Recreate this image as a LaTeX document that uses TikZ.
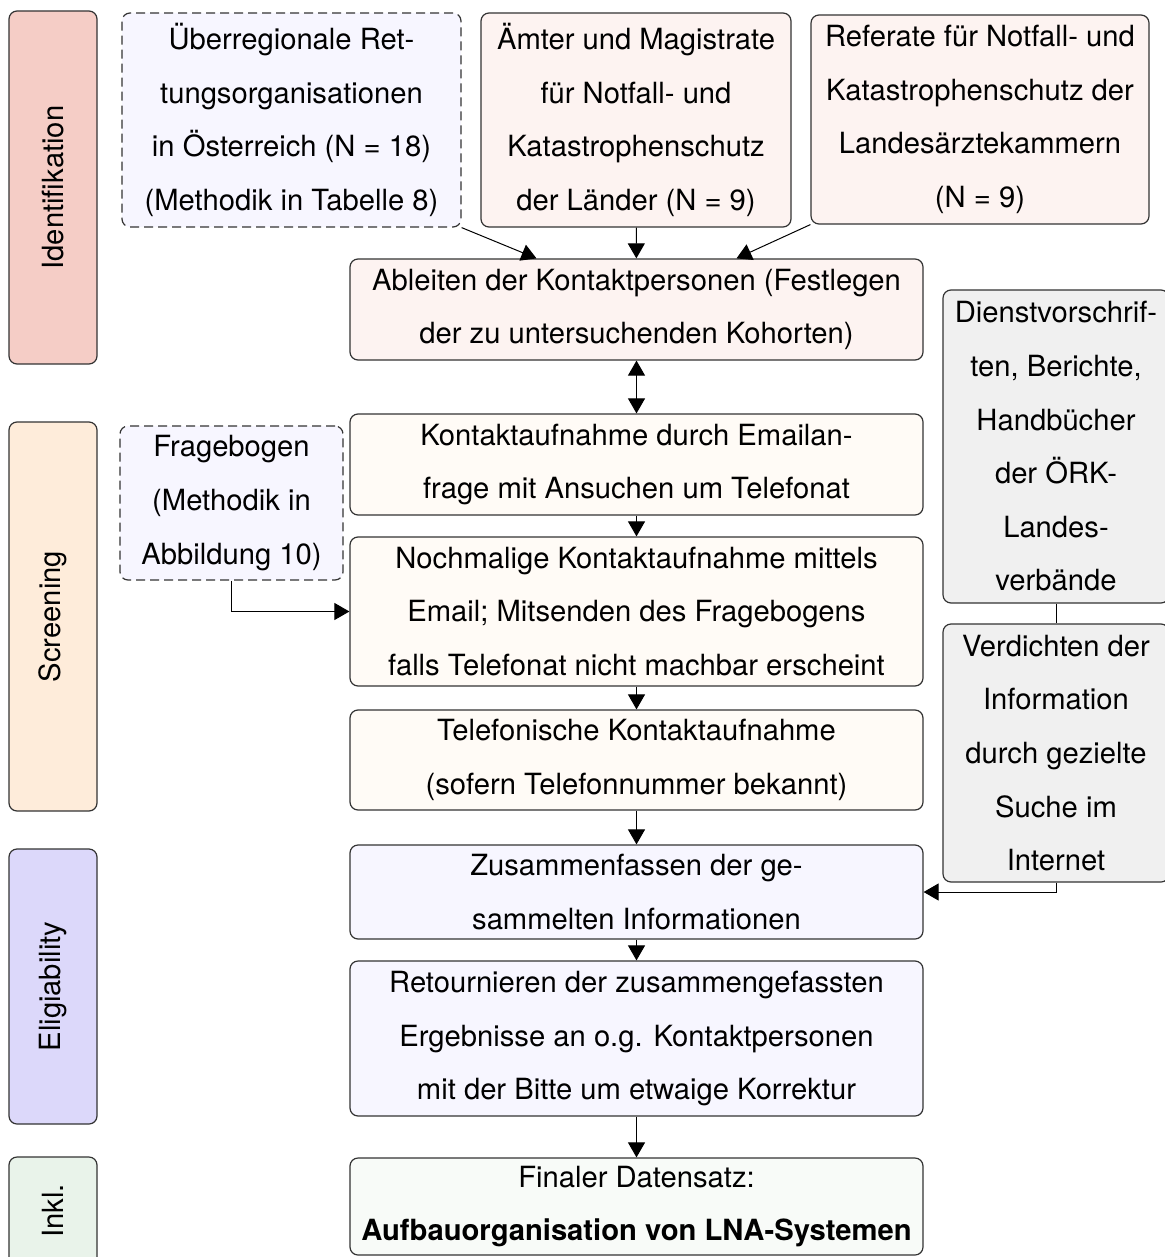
\documentclass[tikz,border=0pt]{standalone}
\usepackage{fontspec}
\setmainfont{TeX Gyre Heros}
\usetikzlibrary{arrows.meta}
\definecolor{idfdark}{RGB}{245,205,198}
\definecolor{scrdark}{RGB}{254,236,218}
\definecolor{elidark}{RGB}{220,216,250}
\definecolor{inkdark}{RGB}{233,243,234}
\definecolor{idflight}{RGB}{253,243,241}
\definecolor{scrlight}{RGB}{255,251,246}
\definecolor{elilight}{RGB}{247,246,255}
\definecolor{inklight}{RGB}{248,251,248}
\definecolor{infogray}{RGB}{240,240,240}
\tikzset{ box/.style={draw=black!80,line width=0.6pt,rounded corners=4pt,align=center,inner sep=2pt,font=\fontsize{14.6}{26.8}\selectfont},
  phase/.style={box,rotate=90},
  step box/.style={box,minimum width=286.5pt},
  src/.style={box,dash pattern=on 4.5pt off 2.5pt,fill=elilight},
  info/.style={box,fill=infogray,minimum width=113pt} }

\begin{document}
\begin{tikzpicture}[x=0.5pt,y=-0.5pt,>={Triangle[length=7.5pt,width=8.5pt]},line width=0.5pt]
   \useasboundingbox (0,0) rectangle (1165,1257);
   % phases
   \node[phase,fill=idfdark,minimum width=176.5pt,minimum height=44pt] (pidf) at (53,187.5) {Identifikation};
   \node[phase,fill=scrdark,minimum width=194.5pt,minimum height=44pt] (pscr) at (53,616.5) {Screening};
   \node[phase,fill=elidark,minimum width=137.5pt,minimum height=44pt] (peli) at (53,986.5) {Eligiability};
   \node[phase,fill=inkdark,minimum width=54pt,minimum height=44pt] (pink) at (53,1211) {Inkl.};
   % sources
   \node[src,minimum width=169.5pt,minimum height=107pt] (uber) at (291.5,120) {Überregionale Ret-\\tungsorganisationen\\in Österreich (N = 18)\\(Methodik in Tabelle 8)};
   \node[box,fill=idflight,minimum width=155pt,minimum height=107pt] (aemter) at (636,120) {Ämter und Magistrate\\für Notfall- und\\Katastrophenschutz\\der Länder (N = 9)};
   \node[box,fill=idflight,minimum width=169pt,minimum height=104.5pt] (referat) at (980,119.5) {Referate für Notfall- und\\Katastrophenschutz der\\Landesärztekammern\\(N = 9)};
   \node[step box,fill=idflight,minimum height=50.5pt] (ableiten) at (636.5,309.5) {Ableiten der Kontaktpersonen (Festlegen\\der zu untersuchenden Kohorten)};
   \node[step box,fill=scrlight,minimum height=50.5pt] (kontakt) at (636.5,464.5) {Kontaktaufnahme durch Emailan-\\frage mit Ansuchen um Telefonat};
   \node[src,minimum width=111.5pt,minimum height=77pt] (frage) at (231.5,503) {Fragebogen\\(Methodik in\\Abbildung 10)};
   \node[step box,fill=scrlight,minimum height=74.5pt] (nochmal) at (636.5,611.5) {Nochmalige Kontaktaufnahme mittels\\Email; Mitsenden des Fragebogens\\falls Telefonat nicht machbar erscheint};
   \node[step box,fill=scrlight,minimum height=50pt] (telefon) at (636.5,760) {Telefonische Kontaktaufnahme\\(sofern Telefonnummer bekannt)};
   \node[step box,fill=elilight,minimum height=47pt] (zusammen) at (636.5,892) {Zusammenfassen der ge-\\sammelten Informationen};
   \node[step box,fill=elilight,minimum height=77.5pt] (retour) at (636.5,1038.5) {Retournieren der zusammengefassten\\Ergebnisse an o.g. Kontaktpersonen\\mit der Bitte um etwaige Korrektur};
   \node[step box,fill=inklight,minimum height=48.5pt] (final) at (636.5,1206.5) {Finaler Datensatz:\\\textbf{Aufbauorganisation von LNA-Systemen}};
   % grey side boxes
   \node[info,minimum height=156.5pt] (dienst) at (1056,446.5) {Dienstvorschrif-\\ten, Berichte,\\Handbücher\\der ÖRK-\\Landes-\\verbände};
   \node[info,minimum height=129pt] (verdicht) at (1056,753) {Verdichten der\\Information\\durch gezielte\\Suche im\\Internet};
   % connectors
   \draw[->] (uber.south east) -- ([xshift=-50pt]ableiten.north);
   \draw[->] (aemter) -- (ableiten);
   \draw[->] (referat.south west) -- ([xshift=50pt]ableiten.north);
   \draw[<->] (ableiten) -- (kontakt);
   \draw[->] (kontakt) -- (nochmal);
   \draw[->] (frage.south) |- (nochmal.west);
   \draw[->] (nochmal) -- (telefon);
   \draw[->] (telefon) -- (zusammen);
   \draw[->] (zusammen) -- (retour);
   \draw[->] (retour) -- (final);
   \draw (dienst) -- (verdicht);
   \draw[->] (verdicht.south) |- (zusammen.east);
\end{tikzpicture}
\end{document}
